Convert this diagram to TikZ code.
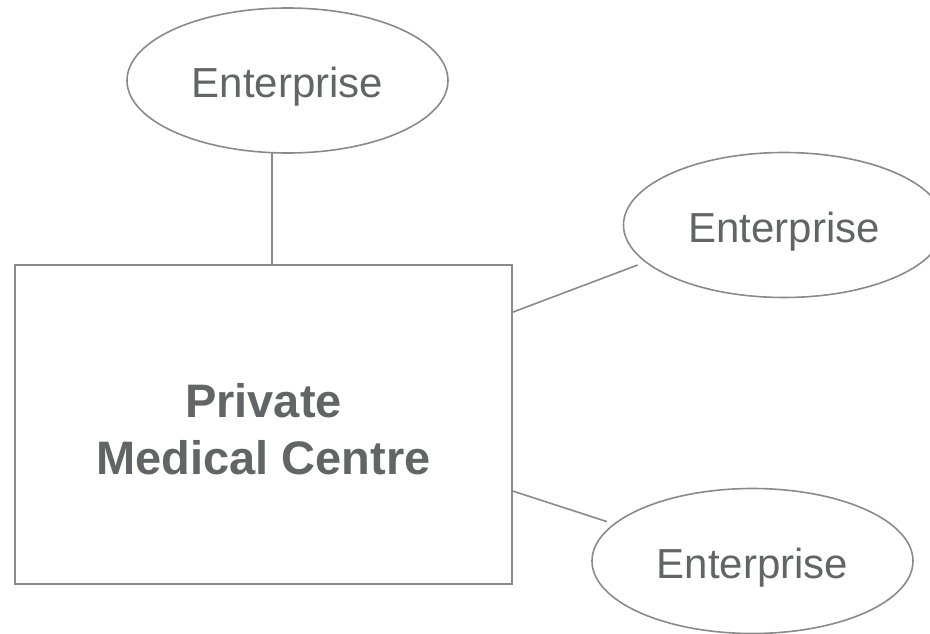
\documentclass[tikz,border=0pt]{standalone}
\usepackage{fontspec}
\setmainfont{Liberation Sans}
\usetikzlibrary{shapes.geometric,calc}
\definecolor{edgegrey}{HTML}{8A8A8A}
\definecolor{textgrey}{HTML}{636466}
\begin{document}
\begin{tikzpicture}[x=1pt,y=-1pt,
  ent/.style={ellipse,draw=edgegrey,line width=1.6pt,minimum width=321pt,minimum height=145pt,inner sep=0pt,
    text=textgrey,font=\fontsize{42}{48}\selectfont,text height=35pt,text depth=0pt},
  box/.style={rectangle,draw=edgegrey,line width=1.8pt,minimum width=497pt,minimum height=319pt,inner sep=0pt},
  boxtext/.style={text=textgrey,font=\bfseries\fontsize{47}{57}\selectfont,align=center,inner sep=0pt},
  link/.style={draw=edgegrey,line width=1.6pt}]
\useasboundingbox (0,0) rectangle (930,634);
\clip (0,0) rectangle (930,634);
\node[box] (pmc) at (263.5,424.5) {};
\node[boxtext] (pmctext) at ($(pmc.center)+(0,5)$) {Private\\Medical Centre};
\node[ent] (e1) at (287.5,80.5) {Enterprise};
\node[ent] (e2) at (784,225) {Enterprise};
\node[ent] (e3) at (752.5,561) {Enterprise};
\coordinate (q2) at ($(pmc.north east)+(0,48)$);
\coordinate (q3) at ($(pmc.north east)+(0,227)$);
\draw[link] (e1.258) -- (e1.258 |- pmc.north);
\draw[link,shorten >=8pt] (q2) -- (e2.195);
\draw[link,shorten >=7pt] (q3) -- (e3.165);
\end{tikzpicture}
\end{document}
